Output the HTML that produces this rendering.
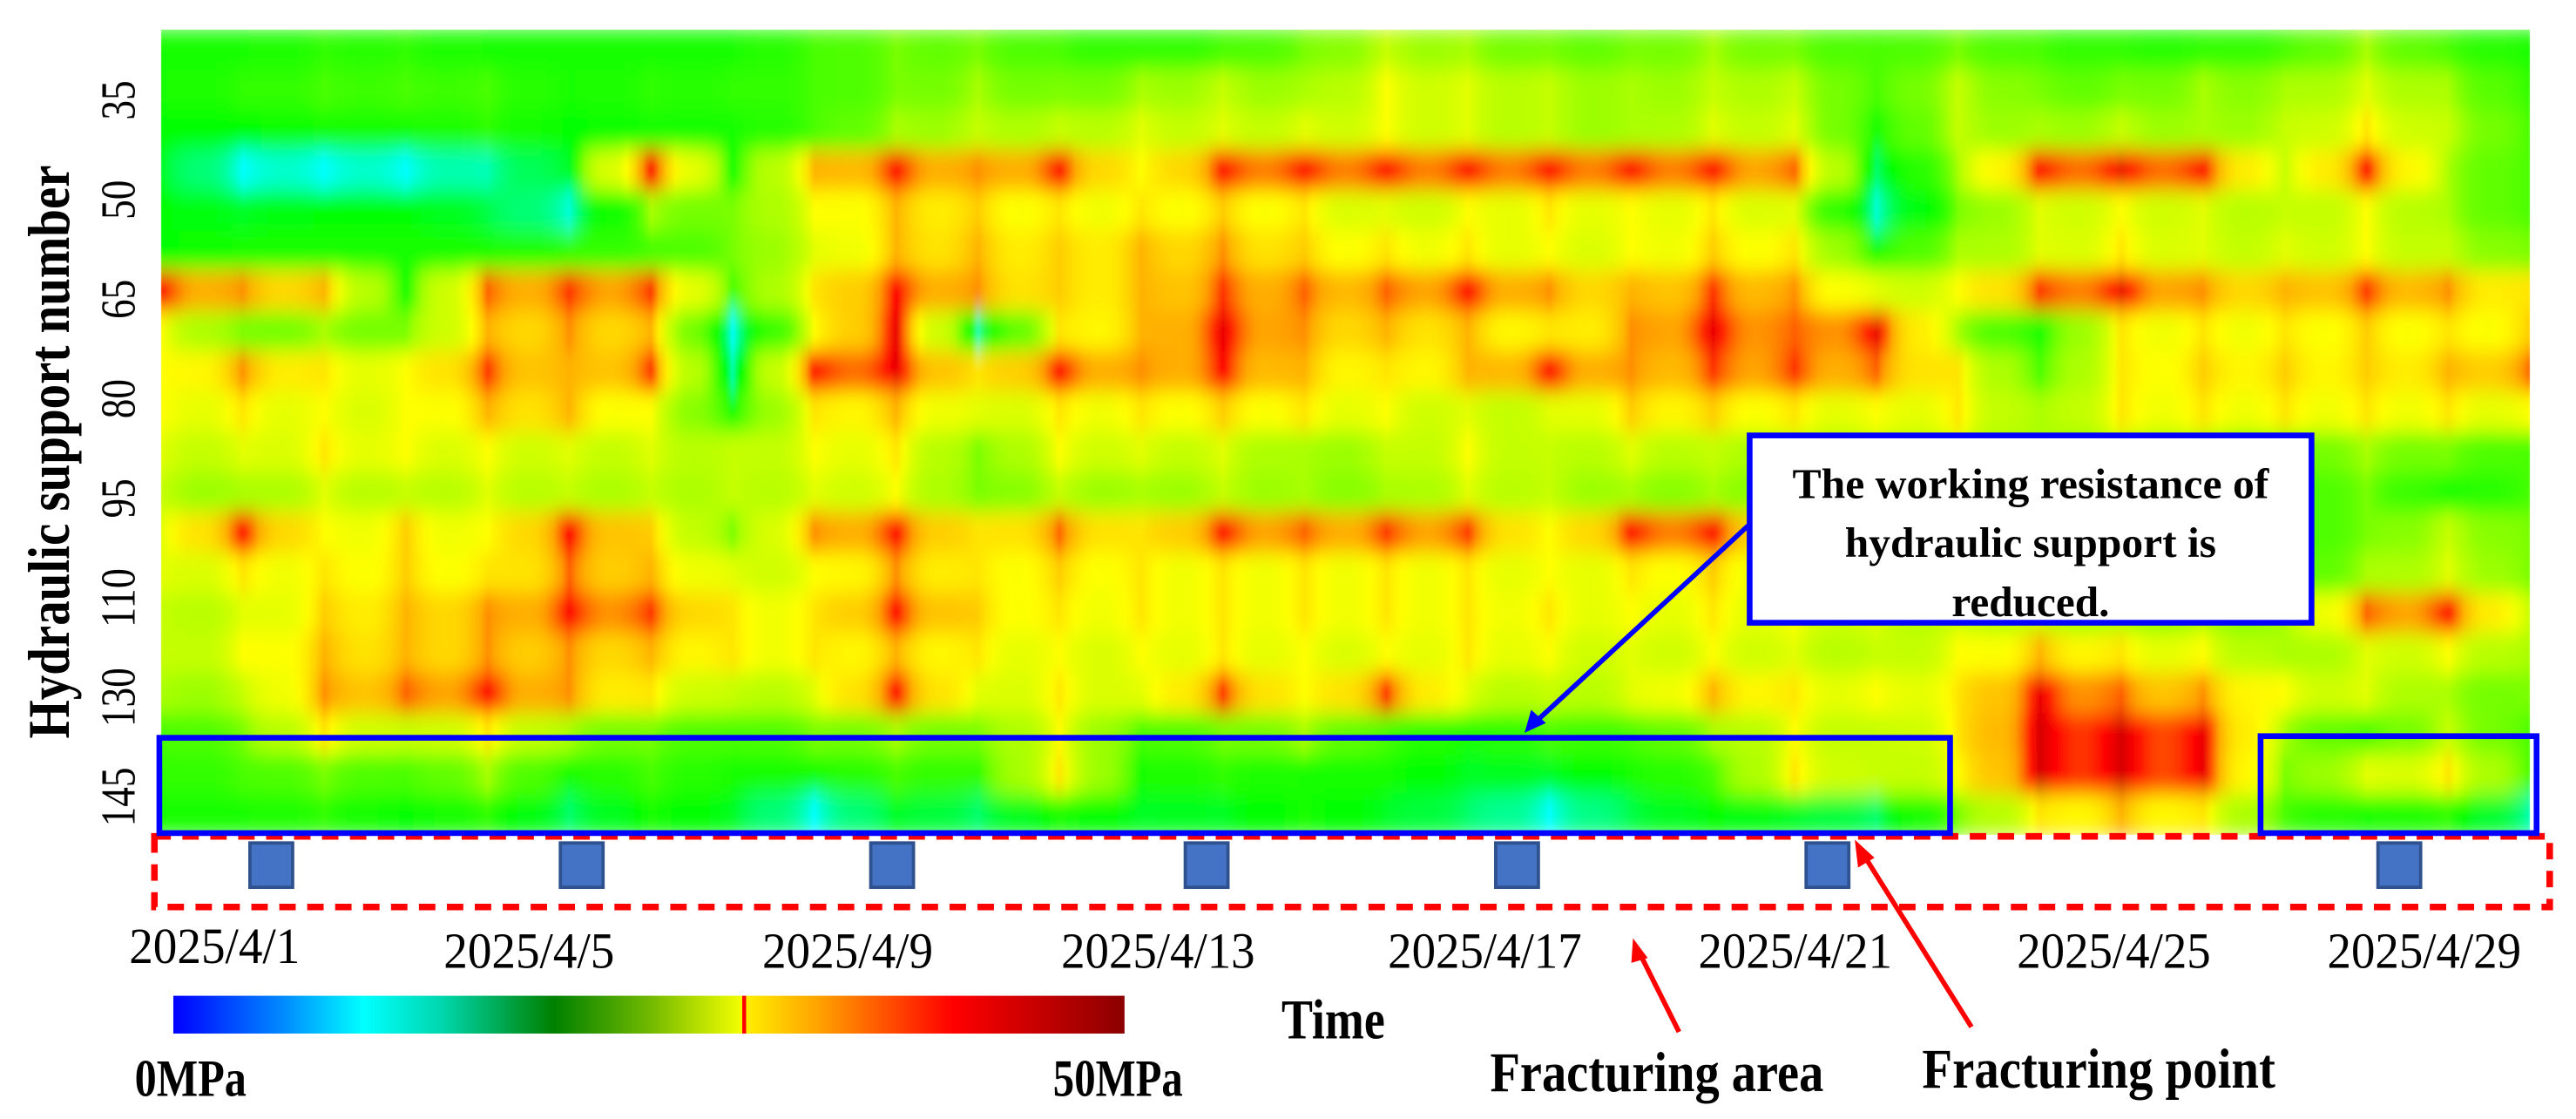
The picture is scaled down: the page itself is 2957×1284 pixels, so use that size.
<!DOCTYPE html>
<html><head><meta charset="utf-8"><style>
html,body{margin:0;padding:0;background:#fff;}
svg{display:block;}
text{font-family:"Liberation Serif","Times New Roman",serif;fill:#000;}
</style></head><body>
<svg id="chart" width="2957" height="1284" viewBox="0 0 1568 681" preserveAspectRatio="none" xmlns="http://www.w3.org/2000/svg">
<defs id="defs">
<clipPath id="hmclip"><rect x="98" y="18" width="1442" height="490"/></clipPath>
<filter id="blur" x="-5%" y="-5%" width="110%" height="110%"><feGaussianBlur stdDeviation="0.5 6" edgeMode="duplicate"/></filter>
<linearGradient id="cbar" x1="0" x2="1" y1="0" y2="0">
<stop offset="0" stop-color="#0000ff"/><stop offset="0.12" stop-color="#0090ff"/><stop offset="0.2" stop-color="#00ffff"/><stop offset="0.28" stop-color="#00d8b0"/><stop offset="0.4" stop-color="#008000"/><stop offset="0.5" stop-color="#70b800"/><stop offset="0.598" stop-color="#f4ff00"/><stop offset="0.598" stop-color="#ff0000"/><stop offset="0.602" stop-color="#ff0000"/><stop offset="0.602" stop-color="#ffee00"/><stop offset="0.68" stop-color="#ffa000"/><stop offset="0.82" stop-color="#ff0000"/><stop offset="1" stop-color="#8b0000"/>
</linearGradient>
</defs>
<rect x="0" y="0" width="1568" height="681" fill="#fff"/>
<g clip-path="url(#hmclip)"><g id="cells" filter="url(#blur)"></g></g>

<g id="yaxis"></g>
<text transform="translate(42,275) rotate(-90)" text-anchor="middle" font-weight="bold" font-size="36" textLength="349" lengthAdjust="spacingAndGlyphs">Hydraulic support number</text>

<g id="xaxis"></g>

<rect x="94" y="509" width="1458" height="43" fill="none" stroke="#ff0000" stroke-width="4" stroke-dasharray="10 7"/>
<rect x="97" y="449" width="1090" height="58" fill="none" stroke="#0000ff" stroke-width="3.5"/>
<rect x="1376" y="448" width="168" height="59" fill="none" stroke="#0000ff" stroke-width="3.5"/>
<g id="points"></g>

<g>
<line x1="1064" y1="320" x2="934" y2="440" stroke="#0000ff" stroke-width="3"/>
<polygon points="928,446 932,432 941,440" fill="#0000ff"/>
<rect x="1065" y="265" width="342" height="114" fill="#fff" stroke="#0000ff" stroke-width="3.5"/>
<text x="1236" y="303" text-anchor="middle" font-weight="bold" font-size="26" textLength="290" lengthAdjust="spacingAndGlyphs">The working resistance of</text>
<text x="1236" y="339" text-anchor="middle" font-weight="bold" font-size="26" textLength="226" lengthAdjust="spacingAndGlyphs">hydraulic support is</text>
<text x="1236" y="375" text-anchor="middle" font-weight="bold" font-size="26" textLength="96" lengthAdjust="spacingAndGlyphs">reduced.</text>
</g>

<rect x="105.5" y="606" width="579" height="23" fill="url(#cbar)"/>
<text x="82" y="667" font-weight="bold" font-size="32" textLength="68" lengthAdjust="spacingAndGlyphs">0MPa</text>
<text x="641" y="667" font-weight="bold" font-size="32" textLength="79" lengthAdjust="spacingAndGlyphs">50MPa</text>
<text x="780" y="632" font-weight="bold" font-size="34" textLength="63" lengthAdjust="spacingAndGlyphs">Time</text>
<text x="907" y="664" font-weight="bold" font-size="34" textLength="203" lengthAdjust="spacingAndGlyphs">Fracturing area</text>
<text x="1170" y="662" font-weight="bold" font-size="34" textLength="215" lengthAdjust="spacingAndGlyphs">Fracturing point</text>
<g stroke="#ff0000" stroke-width="3" fill="#ff0000">
<line x1="1022" y1="628" x2="997" y2="578"/>
<polygon points="994,571 1003,583 993,586" stroke="none"/>
<line x1="1200" y1="625" x2="1133" y2="518"/>
<polygon points="1129,511 1141,522 1131,528" stroke="none"/>
</g>
</svg>
<script>
const days = ["4/1","4/2","4/3","4/4","4/5","4/6","4/7","4/8","4/9","4/10","4/11","4/12","4/13","4/14","4/15","4/16","4/17","4/18","4/19","4/20","4/21","4/22","4/23","4/24","4/25","4/26","4/27","4/28","4/29","4/30"];
const yTickLabels = ["35","50","65","80","95","110","130","145"];
const xTickLabels = ["2025/4/1","2025/4/5","2025/4/9","2025/4/13","2025/4/17","2025/4/21","2025/4/25","2025/4/29"];
const xTickDays = [-0.35,3.5,7.4,11.2,15.2,19,22.9,26.7];
const fracturingDays = [1.35,5.15,8.95,12.8,16.6,20.4,27.4];
const r0 =[16,16,17,17,16,16,16,16,18,20,20,18,17,18,20,24,22,20,20,22,20,18,20,18,17,17,18,22,18,16];
const r1 =[16,17,18,18,18,16,17,17,18,20,22,20,22,24,22,28,26,24,22,24,24,18,24,20,20,22,22,26,22,17];
const r2 =[15,15,16,16,17,15,16,16,18,22,24,24,26,26,26,28,26,24,22,26,26,16,24,22,24,22,24,30,24,18];
const r3 =[14,8,8,8,10,14,42,16,34,42,36,42,28,42,42,42,42,42,42,42,38,12,22,42,44,42,24,42,22,18];
const r4 =[15,14,15,15,13,9,22,20,28,34,32,30,30,32,30,26,28,30,28,30,26,9,20,26,28,26,24,28,22,18];
const r5 =[15,16,16,16,16,17,18,20,26,34,34,32,34,36,32,30,30,28,28,32,30,16,22,26,30,26,26,28,24,20];
const r6 =[42,36,34,16,38,40,40,18,30,42,36,32,34,40,38,38,42,36,34,40,36,26,28,40,44,36,34,40,36,30];
const r7 =[28,20,22,20,34,36,34,8,28,44,10,30,34,44,36,34,34,30,36,44,38,44,22,16,30,30,30,32,30,32];
const r8 =[28,36,30,28,40,34,40,10,42,44,30,42,36,42,34,30,34,42,36,40,40,38,30,18,30,32,32,32,34,38];
const r9 =[28,30,28,28,34,34,28,16,30,34,26,30,30,32,30,28,26,26,32,32,30,28,30,22,30,30,30,30,30,28];
const r10=[26,26,30,28,28,26,26,24,28,30,20,28,26,26,22,24,28,24,26,24,24,24,26,22,24,22,20,22,20,18];
const r11=[24,22,26,24,26,24,24,24,26,28,20,24,22,24,22,22,26,24,22,22,22,22,18,20,22,18,18,20,16,18];
const r12=[26,42,28,32,28,42,32,20,36,42,30,38,30,42,38,40,40,28,42,42,30,26,24,22,22,20,18,20,24,20];
const r13=[26,30,30,32,30,38,34,26,28,36,30,32,30,30,30,30,30,28,30,32,28,22,22,20,20,18,18,22,26,20];
const r14=[24,26,32,34,36,42,40,30,30,42,32,30,30,30,30,30,30,30,28,30,28,26,24,24,22,22,22,38,42,24];
const r15=[24,28,34,34,36,36,34,30,30,34,30,28,28,30,28,28,30,28,26,28,26,24,28,34,30,28,22,26,28,22];
const r16=[22,24,36,38,42,36,30,24,26,42,26,30,26,40,28,40,26,24,26,34,30,28,30,44,38,36,28,26,22,20];
const r17=[18,20,30,24,30,22,20,18,20,22,20,28,18,20,22,18,16,18,18,22,28,24,30,46,46,44,22,18,24,18];
const r18=[17,18,20,18,22,16,18,16,16,18,17,30,16,17,16,16,14,14,16,18,30,24,28,46,46,44,20,26,30,18];
const r19=[16,16,17,15,17,12,16,14,8,14,12,16,14,14,16,14,12,8,13,15,14,12,20,30,34,30,18,16,17,10];
const values = [r0,r1,r2,r3,r4,r5,r6,r7,r8,r9,r10,r11,r12,r13,r14,r15,r16,r17,r18,r19];

const NS = "http://www.w3.org/2000/svg";
const X0 = 98, X1 = 1540, Y0 = 18, Y1 = 508;
const nCols = days.length, nRows = values.length;
const colStep = (X1 - X0) / (nCols - 1);
const rowStep = (Y1 - Y0) / nRows;
function xScale(i){ return X0 + i * colStep; }
function yScale(j){ return Y0 + (j + 0.5) * rowStep; }
const stops = [[0,[0,0,255]],[8,[0,255,255]],[15,[0,255,0]],[22,[170,255,0]],[28,[255,255,0]],[35,[255,165,0]],[42,[255,0,0]],[50,[170,0,0]]];
function color(v){
  for (let k=1;k<stops.length;k++){
    if (v <= stops[k][0]){
      const a=stops[k-1], b=stops[k], t=(v-a[0])/(b[0]-a[0]);
      const c=a[1].map((x,i)=>Math.round(x+(b[1][i]-x)*t));
      return "rgb("+c.join(",")+")";
    }
  }
  return "rgb(170,0,0)";
}
function between(a, b, t){
  const m = (a + b) / 2;
  const mid = m - 0.2 * (m - 15);
  if (t <= 0.5) { const u = 1 - Math.pow(1 - 2*t, 2); return a + (mid - a) * u; }
  const u = 1 - Math.pow(2*t - 1, 2); return b + (mid - b) * u;
}
const defs = document.getElementById("defs");
const cells = document.getElementById("cells");
values.forEach((row, j) => {
  for (let i = 0; i < row.length - 1; i++) {
    const a = row[i], b = row[i+1];
    const gid = "g" + j + "_" + i;
    const g = document.createElementNS(NS, "linearGradient");
    g.setAttribute("id", gid);
    const N = 10;
    for (let s = 0; s <= N; s++) {
      const t = s / N;
      const st = document.createElementNS(NS, "stop");
      st.setAttribute("offset", t);
      st.setAttribute("stop-color", color(between(a, b, t)));
      g.appendChild(st);
    }
    defs.appendChild(g);
    const r = document.createElementNS(NS, "rect");
    r.setAttribute("x", xScale(i) - 0.3);
    r.setAttribute("y", yScale(j) - rowStep/2 - 0.3);
    r.setAttribute("width", colStep + 0.6);
    r.setAttribute("height", rowStep + 0.6);
    r.setAttribute("fill", "url(#" + gid + ")");
    
    
    cells.appendChild(r);
  }
});
const yaxis = document.getElementById("yaxis");
yTickLabels.forEach((lab, k) => {
  const cy = 61 + k * ((485 - 61) / (yTickLabels.length - 1));
  const t = document.createElementNS(NS, "text");
  t.setAttribute("transform", "translate(82," + cy + ") rotate(-90)");
  t.setAttribute("text-anchor", "middle");
  t.setAttribute("font-size", "30");
  t.setAttribute("textLength", lab.length * 12);
  t.setAttribute("lengthAdjust", "spacingAndGlyphs");
  t.textContent = lab;
  
  
  yaxis.appendChild(t);
});
const xaxis = document.getElementById("xaxis");
xTickLabels.forEach((lab, k) => {
  const t = document.createElementNS(NS, "text");
  t.setAttribute("x", xScale(xTickDays[k]) + 50);
  t.setAttribute("y", k === 0 ? 586 : 589);
  t.setAttribute("text-anchor", "middle");
  t.setAttribute("font-size", "31");
  t.setAttribute("textLength", lab.length > 8 ? 118 : 104);
  t.setAttribute("lengthAdjust", "spacingAndGlyphs");
  t.textContent = lab;
  
  
  xaxis.appendChild(t);
});
const pts = document.getElementById("points");
fracturingDays.forEach((d) => {
  const r = document.createElementNS(NS, "rect");
  r.setAttribute("x", xScale(d) - 13);
  r.setAttribute("y", 513);
  r.setAttribute("width", 26);
  r.setAttribute("height", 27);
  r.setAttribute("fill", "#4472c4");
  r.setAttribute("stroke", "#2f528f");
  r.setAttribute("stroke-width", "2");
  
  
  pts.appendChild(r);
});
</script>
</body></html>
